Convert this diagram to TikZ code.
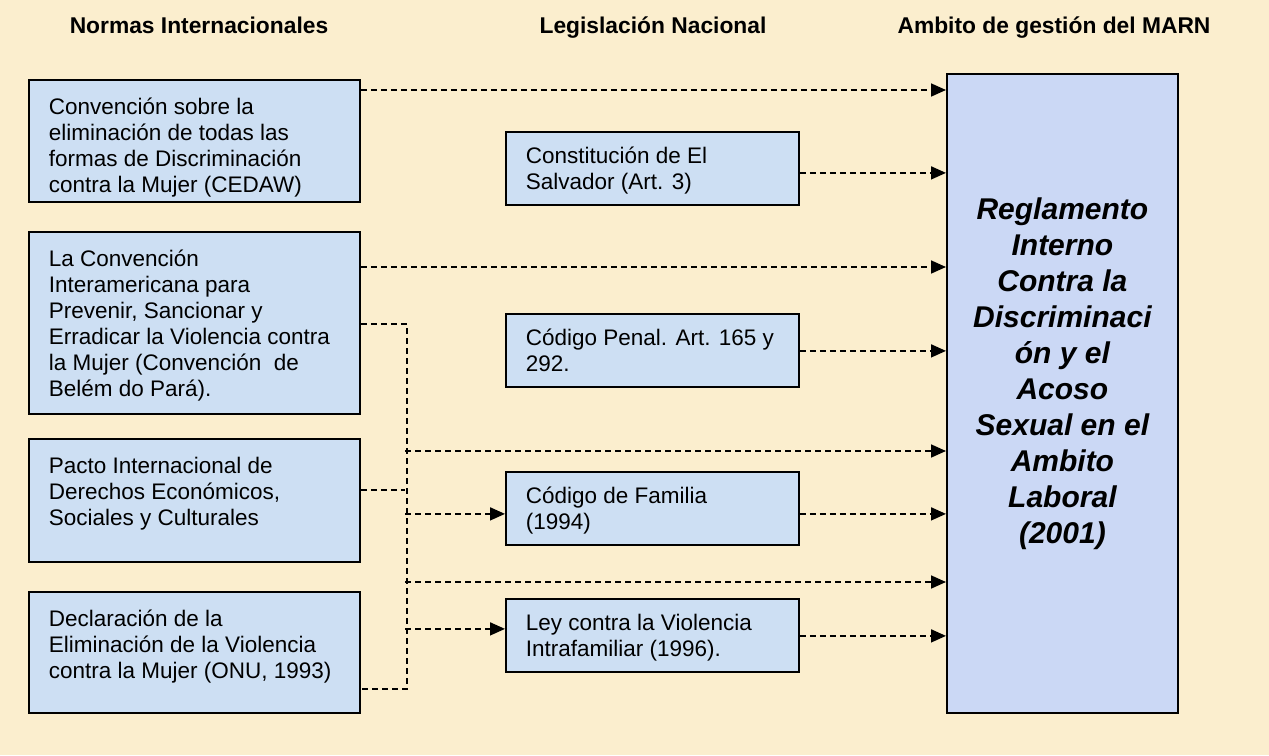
\documentclass[tikz,border=0pt]{standalone}
\usepackage{fontspec}
\setmainfont{Liberation Sans}
\usetikzlibrary{arrows.meta}

\definecolor{parch}{RGB}{251,238,206}
\definecolor{boxblue}{RGB}{205,223,243}
\definecolor{regblue}{RGB}{203,216,245}

% text block of a box: [alignment]{height}{width}{text}
\newcommand{\boxtext}[4][\raggedright]{\parbox[c][#2][t]{#3}{#1\strut #4}}

\tikzset{
  heading/.style={anchor=base, font=\fontsize{22.8}{26}\selectfont\bfseries},
  normbox/.style={draw, line width=1.8pt, fill=boxblue, anchor=north west,
    inner xsep=20pt, inner ysep=16pt, font=\fontsize{22.5}{26}\selectfont},
  leybox/.style={normbox, inner ysep=13pt},
  regbox/.style={draw, line width=1.8pt, fill=regblue, anchor=north west,
    inner xsep=10pt, inner ysep=120pt, font=\fontsize{30}{36}\selectfont\bfseries\itshape},
  link/.style={dash pattern=on 6pt off 4pt, line width=1.7pt},
  flow/.style={link, -{Triangle[length=15pt,width=13pt]}},
}

\begin{document}
\begin{tikzpicture}[x=1pt, y=-1pt]
  \fill[parch] (0,0) rectangle (1269,755);
  \useasboundingbox (0,0) rectangle (1269,755);

  \node[heading] (hnormas) at (199,33) {Normas Internacionales};
  \node[heading] (hlegis)  at (653,33) {Legislación Nacional};
  \node[heading] (hmarn)   at (1054,33) {Ambito de gestión del MARN};

  % normas internacionales
  \node[normbox] (cedaw) at (28,79) {\boxtext{90pt}{291pt}{Convención sobre la\\ eliminación de todas las\\ formas de Discriminación\\ contra la Mujer (CEDAW)}};
  \node[normbox] (belem) at (28,231) {\boxtext{150pt}{291pt}{La Convención\\ Interamericana para\\ Prevenir, Sancionar y\\ Erradicar la Violencia contra\\ la Mujer (Convención~ de\\ Belém do Pará).}};
  \node[normbox] (pacto) at (28,438) {\boxtext{91pt}{291pt}{Pacto Internacional de\\ Derechos Económicos,\\ Sociales y Culturales}};
  \node[normbox] (onu) at (28,591) {\boxtext{89pt}{291pt}{Declaración de la\\ Eliminación de la Violencia\\ contra la Mujer (ONU, 1993)}};

  % legislacion nacional
  \node[leybox] (const) at (505,131) {\boxtext{47pt}{253pt}{Constitución de El\\ Salvador (Art. 3)}};
  \node[leybox] (penal) at (505,313) {\boxtext{47pt}{253pt}{Código Penal. Art. 165 y\\ 292.}};
  \node[leybox] (familia) at (505,471) {\boxtext{47pt}{253pt}{Código de Familia\\ (1994)}};
  \node[leybox] (violencia) at (505,598) {\boxtext{47pt}{253pt}{Ley contra la Violencia\\ Intrafamiliar (1996).}};

  % ambito MARN
  \node[regbox] (regl) at (946,73) {\boxtext[\centering]{399pt}{211pt}{Reglamento\\ Interno\\ Contra la\\ Discriminaci\\ ón y el\\ Acoso\\ Sexual en el\\ Ambito\\ Laboral\\ (2001)}};

  % bus from the international norms
  \coordinate (bx) at (405,0);
  \coordinate (j1) at (405,451);
  \coordinate (j2) at (405,582);
  \draw[link] ([yshift=-93pt]belem.north east) -- ++(46,0) |- ([yshift=-98pt]onu.north east);
  \draw[link] ([yshift=-52pt]pacto.north east) coordinate (p1) -- (p1 -| bx);
  \draw[flow] ([yshift=-5.5pt]familia.west -| bx) -- ([yshift=-5.5pt]familia.west);
  \draw[flow] ([yshift=6.5pt]violencia.west -| bx) -- ([yshift=6.5pt]violencia.west);

  % into the reglamento
  \draw[flow] ([yshift=-11pt]cedaw.north east) coordinate (c1) -- (c1 -| regl.west);
  \draw[flow] ([yshift=-4.5pt]const.east) coordinate (c2) -- (c2 -| regl.west);
  \draw[flow] ([yshift=-36pt]belem.north east) coordinate (c3) -- (c3 -| regl.west);
  \draw[flow] ([yshift=-0.5pt]penal.east) coordinate (c4) -- (c4 -| regl.west);
  \draw[flow] (j1) -- (j1 -| regl.west);
  \draw[flow] ([yshift=-5.5pt]familia.east) coordinate (c6) -- (c6 -| regl.west);
  \draw[flow] (j2) -- (j2 -| regl.west);
  \draw[flow] ([yshift=-0.5pt]violencia.east) coordinate (c8) -- (c8 -| regl.west);
\end{tikzpicture}
\end{document}
